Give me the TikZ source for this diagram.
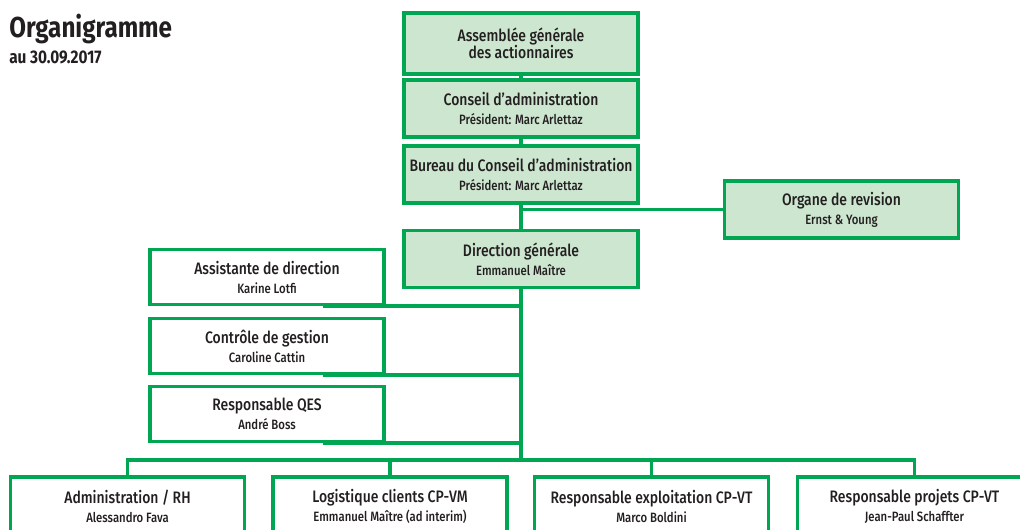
\documentclass[tikz,border=0pt]{standalone}
\usepackage{fontspec}
\setmainfont{Fira Sans}[FakeStretch=0.84, UprightFont=* Medium, BoldFont=* Bold]
\usepackage{tikz}
\usepackage{xcolor}
\usetikzlibrary{positioning}

\definecolor{orggreen}{RGB}{0,166,81}
\definecolor{orgfill}{RGB}{205,230,208}
\definecolor{orgtext}{RGB}{35,31,32}

\newcommand{\boxhead}[1]{{\fontsize{11.8}{15}\selectfont #1}}
\newcommand{\boxname}[1]{{\fontsize{9.6}{12}\selectfont #1}}

\tikzset{
    orgbox/.style={rectangle, draw=orggreen, line width=2.3pt, fill=white, text=orgtext, align=center, inner sep=0pt, minimum width=5.85cm},
    topbox/.style={orgbox, fill=orgfill},
    link/.style={draw=orggreen, line width=2.8pt}
}

\begin{document}
\begin{tikzpicture}[x=0.025cm, y=-0.025cm]
            \useasboundingbox (0, 0) rectangle (1020, 529);
            \clip (0, 0) rectangle (1020, 529);

            \node[anchor=north west, text=orgtext, align=left, inner sep=0pt] (title) at (9, 14) {{\fontsize{20.5}{24}\selectfont\bfseries Organigramme}\\[4pt]{\fontsize{13}{16}\selectfont\bfseries au 30.09.2017}};

            \node[topbox, minimum height=1.525cm] (assemblee) at (521, 43.5) {\boxhead{Assemblée générale}\\\boxhead{des actionnaires}};
            \node[topbox, minimum height=1.425cm] (conseil) at (521, 108.5) {\boxhead{Conseil d’administration}\\[1.5pt]\boxname{Président: Marc Arlettaz}};
            \node[topbox, minimum height=1.425cm] (bureau) at (521, 174.5) {\boxhead{Bureau du Conseil d’administration}\\[1.5pt]\boxname{Président: Marc Arlettaz}};
            \node[topbox, minimum height=1.425cm] (organe) at (841.5, 209.5) {\boxhead{Organe de revision}\\[1.5pt]\boxname{Ernst \& Young}};
            \node[topbox, minimum height=1.425cm] (direction) at (521, 259) {\boxhead{Direction générale}\\[1.5pt]\boxname{Emmanuel Maître}};

            \node[orgbox, minimum height=1.375cm] (assistante) at (267, 277) {\boxhead{Assistante de direction}\\[1.5pt]\boxname{Karine Lotfi}};
            \node[orgbox, minimum height=1.375cm] (controle) at (267, 346) {\boxhead{Contrôle de gestion}\\[1.5pt]\boxname{Caroline Cattin}};
            \node[orgbox, minimum height=1.375cm] (qes) at (267, 414) {\boxhead{Responsable QES}\\[1.5pt]\boxname{André Boss}};

            \node[orgbox, minimum height=1.45cm] (admin) at (127.5, 506) {\boxhead{Administration / RH}\\[1.5pt]\boxname{Alessandro Fava}};
            \node[orgbox, minimum height=1.45cm] (logistique) at (390, 506) {\boxhead{Logistique clients CP-VM}\\[1.5pt]\boxname{Emmanuel Maître (ad interim)}};
            \node[orgbox, minimum height=1.45cm] (exploitation) at (651.5, 506) {\boxhead{Responsable exploitation CP-VT}\\[1.5pt]\boxname{Marco Boldini}};
            \node[orgbox, minimum height=1.45cm] (projets) at (914.5, 506) {\boxhead{Responsable projets CP-VT}\\[1.5pt]\boxname{Jean-Paul Schaffter}};

            \coordinate (bus) at (521, 460);

            \draw[link] (assemblee) -- (conseil);
            \draw[link] (conseil) -- (bureau);
            \draw[link] (bureau) -- (direction);
            \draw[link] (bureau.south |- organe.west) -- (organe.west);
            \draw[link] (direction.south) -- (bus);
            \draw[link] ([xshift=-1.575cm]assistante.south east) -- (assistante.south -| bus);
            \draw[link] ([xshift=-1.575cm]controle.south east) -- (controle.south -| bus);
            \draw[link] ([xshift=-1.575cm]qes.south east) -- (qes.south -| bus);
            \draw[link] (admin.north) |- (bus) -| (projets.north);
            \draw[link] (logistique.north) -- (logistique.north |- bus);
            \draw[link] (exploitation.north) -- (exploitation.north |- bus);
        \end{tikzpicture}
\end{document}
